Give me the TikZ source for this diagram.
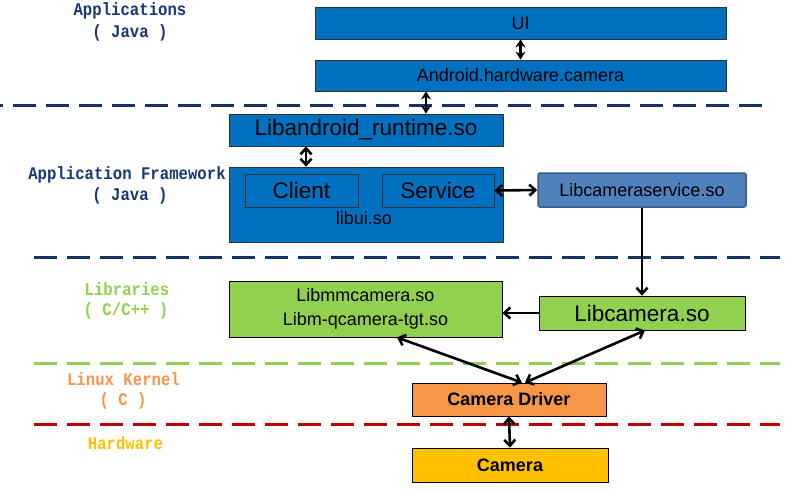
\documentclass[tikz,border=0pt]{standalone}
\usepackage{fontspec}
\setmainfont{Liberation Sans}
\newfontfamily\lblfont[FakeStretch=0.88]{Liberation Mono}
\usetikzlibrary{arrows.meta,calc}
\definecolor{navyc}{RGB}{23,55,120}
\definecolor{navyl}{RGB}{23,50,100}
\definecolor{greenc}{RGB}{146,208,80}
\definecolor{orangec}{RGB}{247,150,70}
\definecolor{redc}{RGB}{192,0,0}
\definecolor{goldc}{RGB}{255,192,0}
\definecolor{boxblue}{RGB}{0,112,192}
\definecolor{svcblue}{RGB}{79,129,189}
\definecolor{svcedge}{RGB}{56,93,138}
\tikzset{
  sepline/.style={line width=3pt, dash pattern=on 23pt off 10pt},
  layerlbl/.style={font=\lblfont\bfseries\fontsize{17.8}{20}\selectfont, inner sep=0pt},
  bluebox/.style={draw=black!80, line width=0.8pt, fill=boxblue, inner sep=0pt, font=\fontsize{18}{21}\selectfont},
  bigtext/.style={font=\fontsize{22.5}{26}\selectfont},
  greenbox/.style={draw=black, line width=0.8pt, fill=greenc, inner sep=0pt, font=\fontsize{18}{24}\selectfont, align=center},
  barb/.style={line width=2.6pt, {Straight Barb[length=6pt,width=11pt,line width=2.6pt]}-{Straight Barb[length=6pt,width=11pt,line width=2.6pt]}},
  sbarb/.style={line width=2.6pt, -{Straight Barb[length=6pt,width=11pt,line width=2.6pt]}},
  fat/.style={line width=2.6pt, {Stealth[length=8pt,width=10pt]}-{Stealth[length=8pt,width=10pt]}},
}
\begin{document}
\begin{tikzpicture}[x=1pt,y=-1pt]
\useasboundingbox (0,0) rectangle (809,491);
% separator lines
\draw[sepline, navyl, dash phase=20pt] (0,105) -- (770,105);
\draw[sepline, navyl] (34,257) -- (780,257);
\draw[sepline, greenc] (34,363) -- (780,363);
\draw[sepline, redc] (34,424) -- (780,424);
% layer labels
\node[layerlbl, text=navyc] (l1a) at (130,11) {Applications};
\node[layerlbl, text=navyc] (l1b) at (130,33) {( Java )};
\node[layerlbl, text=navyc] (l2a) at (127,175) {Application Framework};
\node[layerlbl, text=navyc] (l2b) at (130,196) {( Java )};
\node[layerlbl, text=greenc] (l3a) at (127,289) {Libraries};
\node[layerlbl, text=greenc] (l3b) at (126,311) {( C/C++ )};
\node[layerlbl, text=orangec] (l4a) at (123.5,379) {Linux Kernel};
\node[layerlbl, text=orangec] (l4b) at (123,401) {( C )};
\node[layerlbl, text=goldc] (l5a) at (125.5,443) {Hardware};
% boxes
\node[bluebox, minimum width=411pt, minimum height=32pt] (ui) at (520.5,23) {UI};
\node[bluebox, minimum width=411pt, minimum height=31pt] (andr) at (520.5,75.5) {Android.hardware.camera};
\node[bluebox, bigtext, minimum width=274pt, minimum height=32pt] (libandroid) at (366,130) {Libandroid\_runtime.so};
\node[bluebox, minimum width=274pt, minimum height=75pt] (libui) at (366,204.5) {};
\node[bluebox, bigtext, minimum width=113pt, minimum height=33pt] (client) at (301.5,190.5) {Client};
\node[bluebox, bigtext, minimum width=112pt, minimum height=33pt] (service) at (438,190.5) {Service};
\node[inner sep=0pt, font=\fontsize{18}{21}\selectfont] (libuilbl) at (364,218) {libui.so};
\node[draw=svcedge, line width=1.5pt, fill=svcblue, rounded corners=2pt, inner sep=0pt, minimum width=208pt, minimum height=34pt, font=\fontsize{18}{21}\selectfont] (camsvc) at (642,190) {Libcameraservice.so};
\node[greenbox, bigtext, minimum width=206pt, minimum height=34pt] (libcamera) at (642,313) {Libcamera.so};
\node[greenbox, minimum width=273pt, minimum height=56pt] (libmm) at (365.5,309) {Libmmcamera.so\\Libm-qcamera-tgt.so};
\node[draw=black, line width=0.8pt, fill=orangec, inner sep=0pt, minimum width=194pt, minimum height=33pt, font=\bfseries\fontsize{18}{21}\selectfont] (driver) at (509,399.5) {Camera Driver};
\node[draw=black, line width=0.8pt, fill=goldc, inner sep=0pt, minimum width=196pt, minimum height=34pt, font=\bfseries\fontsize{18}{21}\selectfont] (camera) at (510,465) {Camera};
% connectors
\draw[fat] (ui.south) -- (andr.north);
\draw[fat] ([xshift=-94.5pt]andr.south) -- ([xshift=60pt]libandroid.north);
\draw[barb] ([xshift=-60pt]libandroid.south) -- ([xshift=-60pt]libui.north);
\draw[barb] (service.east) -- (camsvc.west);
\draw[sbarb] (camsvc.south) -- (libcamera.north);
\draw[sbarb] (libcamera.west) -- (libcamera.west -| libmm.east);
\draw[barb] ([xshift=31.5pt]libmm.south) -- ([xshift=13pt]driver.north);
\draw[barb] ([xshift=3pt]libcamera.south) -- ([xshift=16pt]driver.north);
\draw[barb] (driver.south) -- (camera.north);
\end{tikzpicture}
\end{document}
